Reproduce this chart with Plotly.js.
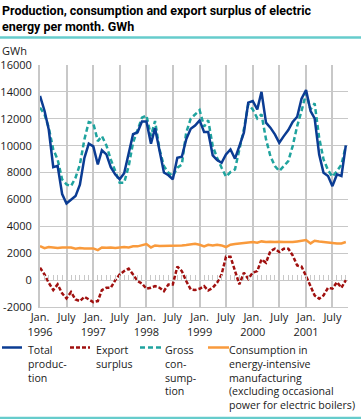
<!DOCTYPE html>
<html>
<head>
<meta charset="utf-8">
<script src="https://cdn.plot.ly/plotly-3.0.1.min.js"></script>
<style>
html,body{margin:0;padding:0;background:#fff;}
#chart{width:361px;height:419px;}
</style>
</head>
<body>
<div id="chart"></div>
<script>
// ---- Data (GWh per month, Jan 1996 - Oct 2001) ----
const months = [
 '1996-01','1996-02','1996-03','1996-04','1996-05','1996-06','1996-07','1996-08','1996-09','1996-10','1996-11','1996-12',
 '1997-01','1997-02','1997-03','1997-04','1997-05','1997-06','1997-07','1997-08','1997-09','1997-10','1997-11','1997-12',
 '1998-01','1998-02','1998-03','1998-04','1998-05','1998-06','1998-07','1998-08','1998-09','1998-10','1998-11','1998-12',
 '1999-01','1999-02','1999-03','1999-04','1999-05','1999-06','1999-07','1999-08','1999-09','1999-10','1999-11','1999-12',
 '2000-01','2000-02','2000-03','2000-04','2000-05','2000-06','2000-07','2000-08','2000-09','2000-10','2000-11','2000-12',
 '2001-01','2001-02','2001-03','2001-04','2001-05','2001-06','2001-07','2001-08','2001-09','2001-10'
];
const totalProduction = [
 13700,12600,11200,8400,8500,6400,5700,6000,6250,7100,9100,10150,
 9950,8600,9650,9350,8400,7850,7500,7950,9350,10850,11000,11800,
 11800,10150,11300,9600,8000,7800,7500,9100,9180,10470,11260,11500,
 11880,11010,11010,9280,8930,8730,9350,9720,9030,9970,10970,13200,
 13320,12700,14000,11710,11340,10840,10220,10710,11160,11760,12150,13500,
 14140,12580,12030,9350,7990,7740,6990,7860,7740,10020
];
const grossConsumption = [
 12830,12330,11340,9720,8980,7490,7120,6990,7620,8600,10470,11760,
 11660,10340,10710,10020,8980,8110,7250,7250,8480,10220,11160,12080,
 12250,10710,11830,9720,8480,7990,7740,8360,8600,10970,12010,12330,
 12650,11410,11900,9970,9100,8360,7690,8040,8240,9720,11210,13070,
 12700,12030,12330,10470,9230,8480,8110,8480,8850,9970,11460,12580,
 13890,12700,13150,10590,8980,8180,7690,8110,8600,9970
];
const exportSurplus = [
 920,420,-200,-740,-320,-990,-1360,-890,-1440,-1560,-1240,-1440,
 -1640,-1560,-740,-570,-570,0,420,670,850,420,-70,-250,
 -640,-570,-450,-570,-820,-320,-320,1000,670,-70,-690,-740,
 -640,-450,-770,-570,-200,420,1740,1740,670,-320,550,100,
 550,670,1540,1290,2160,2340,2090,2340,2340,1840,1090,1000,
 300,-450,-1140,-1380,-1140,-570,-640,-150,-570,0
];
const energyIntensive = [
 2530,2380,2460,2430,2380,2430,2410,2430,2330,2380,2360,2380,
 2360,2230,2430,2410,2430,2380,2430,2460,2430,2510,2510,2580,
 2680,2430,2580,2530,2530,2560,2580,2580,2580,2610,2660,2710,
 2630,2510,2630,2580,2630,2580,2460,2630,2680,2710,2730,2780,
 2830,2780,2880,2830,2860,2830,2860,2830,2810,2830,2880,2930,
 2980,2730,2930,2880,2830,2830,2780,2730,2730,2830
];
const tickVals = ['1996-01-01','1996-07-01','1997-01-01','1997-07-01','1998-01-01','1998-07-01',
 '1999-01-01','1999-07-01','2000-01-01','2000-07-01','2001-01-01','2001-07-01'];
const tickText = ['Jan.<br>1996','July','Jan.<br>1997','July','Jan.<br>1998','July',
 'Jan.<br>1999','July','Jan.<br>2000','July','Jan.<br>2001','July'];
const yTicks = [-2000,0,2000,4000,6000,8000,10000,12000,14000,16000];
const yTickText = ['-2000','0','2000','4000','6000','8000','10000','12000','14000','16000'];
const seriesNames = ['Total production','Export surplus','Gross consumption','Consumption in energy-intensive manufacturing'];
const legendLines = [
 ['Total','produc-','tion'],
 ['Export','surplus'],
 ['Gross','con-','sump-','tion'],
 ['Consumption in','energy-intensive','manufacturing','(excluding occasional','power for electric boilers)']
];
const titleText = 'Production, consumption and export surplus of electric<br>energy per month. GWh';

// ---- Styles ----
const C_PROD = '#0b3c93', C_EXP = '#a0100f', C_GROSS = '#1fa39e', C_IND = '#f99a3c';
const GRID = '#c8c8c8', TXT = '#1a1a1a', TEAL_RULE = '#66cccc';
const FONT = 'Open Sans, sans-serif';
const W = 361, H = 419;
const M = {l:40, r:13, t:65, b:112};
const PW = W - M.l - M.r, PH = H - M.t - M.b;
const px = p => (p - M.l) / PW;
const py = p => (H - M.b - p) / PH;
const xRange = ['1996-01-01','2001-10-16'];

const traces = [
 {x: months, y: energyIntensive, name: seriesNames[3], type:'scatter', mode:'lines', xaxis:'x2',
  line:{color:C_IND, width:2.5}, hoverinfo:'skip'},
 {x: months, y: exportSurplus, name: seriesNames[1], type:'scatter', mode:'lines',
  line:{color:C_EXP, width:2.5, dash:'4px,2px'}, hoverinfo:'skip'},
 {x: months, y: grossConsumption, name: seriesNames[2], type:'scatter', mode:'lines',
  line:{color:C_GROSS, width:2.5, dash:'5px,3px'}, hoverinfo:'skip'},
 {x: months, y: totalProduction, name: seriesNames[0], type:'scatter', mode:'lines',
  line:{color:C_PROD, width:2.5}, hoverinfo:'skip'}
];

// legend (custom)
const legendStyle = [
 {color:C_PROD, dash:'solid', x0:2, x1:22, tx:27},
 {color:C_EXP, dash:'4px,2px', x0:70, x1:90, tx:95},
 {color:C_GROSS, dash:'5px,3px', x0:140, x1:161, tx:164},
 {color:C_IND, dash:'solid', x0:208, x1:229, tx:228}
];
const annotations = [];
const shapes = [
 {type:'line', xref:'paper', yref:'paper', x0:px(0), x1:px(W), y0:py(37.5), y1:py(37.5), line:{color:TEAL_RULE, width:2.5}},
 {type:'line', xref:'paper', yref:'paper', x0:px(0), x1:px(W), y0:py(418), y1:py(418), line:{color:TEAL_RULE, width:2.5}}
];
legendStyle.forEach((s, i) => {
 shapes.push({type:'line', xref:'paper', yref:'paper', x0:px(s.x0), x1:px(s.x1), y0:py(347.5), y1:py(347.5),
  line:{color:s.color, width:2.5, dash:s.dash}});
 annotations.push({text:legendLines[i].join('<br>'), xref:'paper', yref:'paper', x:px(s.tx), y:py(341.5),
  xanchor:'left', yanchor:'top', showarrow:false, align:'left', borderpad:0,
  font:{family:FONT, size:10.6, color:TXT}});
});
annotations.push({text:'GWh', xref:'paper', yref:'paper', x:px(0), y:py(51), xanchor:'left', yanchor:'middle',
 showarrow:false, font:{family:FONT, size:11, color:TXT}});

const layout = {
 width: W, height: H,
 margin: M,
 paper_bgcolor:'#fff', plot_bgcolor:'#fff',
 showlegend:false,
 font:{family:FONT, size:11, color:TXT},
 title:{text:titleText, xref:'container', yref:'container', x:2/W, xanchor:'left', y:1-15/H, yanchor:'top',
  font:{family:'Roboto, sans-serif', size:12.5, weight:'bold', color:'#000'}},
 xaxis:{type:'date', range:xRange, tickvals:tickVals, ticktext:tickText, tickmode:'array',
  showgrid:true, gridcolor:GRID, gridwidth:2, ticks:'', showline:true, linecolor:GRID, linewidth:1,
  zeroline:false, tickfont:{family:FONT, size:11, color:TXT}, fixedrange:true},
 xaxis2:{type:'date', range:xRange, overlaying:'x', anchor:'free', position:2000/18000, side:'bottom',
  tickmode:'linear', tick0:'1996-01-01', dtick:'M1', ticks:'inside', ticklen:5, tickwidth:1, tickcolor:GRID,
  showticklabels:false, showgrid:false, showline:false, zeroline:false, fixedrange:true},
 yaxis:{range:[-2000,16000], tickvals:yTicks, ticktext:yTickText, tickmode:'array', showgrid:true, gridcolor:GRID, gridwidth:1,
  zeroline:true, zerolinecolor:GRID, zerolinewidth:1, showline:true, linecolor:GRID, linewidth:2,
  ticks:'', ticklabelstandoff:4, tickfont:{family:FONT, size:11, color:TXT}, fixedrange:true},
 shapes: shapes,
 annotations: annotations
};

Plotly.newPlot('chart', traces, layout, {staticPlot:true, displayModeBar:false});
</script>
</body>
</html>
